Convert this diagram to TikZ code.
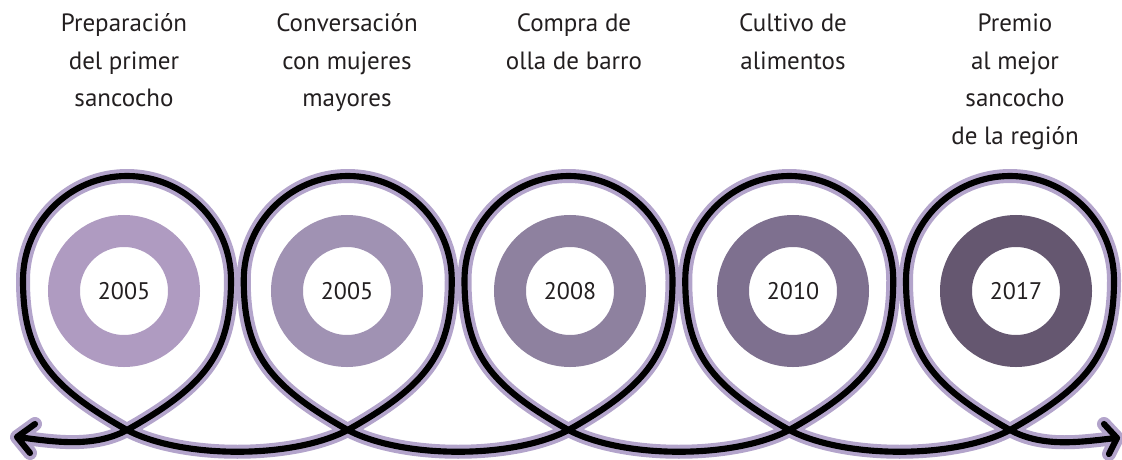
\documentclass[tikz,border=0pt]{standalone}
\usepackage{fontspec}
\setmainfont{PT Sans}
\definecolor{halocol}{HTML}{B3A4CB}
\definecolor{textcol}{HTML}{231F20}
\definecolor{ca}{HTML}{AF9BC1}
\definecolor{cb}{HTML}{A092B3}
\definecolor{cc}{HTML}{8E819F}
\definecolor{cd}{HTML}{7E708F}
\definecolor{ce}{HTML}{655770}
\begin{document}
\begin{tikzpicture}[x=0.75pt,y=-0.75pt,
  halo/.style={draw=halocol, line width=10.5pt, line cap=round, line join=round},
  ink/.style={draw=black, line width=4.6pt, line cap=round, line join=round},
  ring/.style={circle, minimum size=90pt, line width=24pt, inner sep=0pt,
    font=\fontsize{18}{22}\selectfont, text=textcol},
  title/.style={anchor=base, inner sep=0pt, text=textcol,
    font=\fontsize{18.75}{28.1}\selectfont}]
\useasboundingbox (0,0) rectangle (1122,460);

% titles
\node[title] (t1) at (124,32) {\begin{tabular}[t]{@{}c@{}}Preparación\\del primer\\sancocho\end{tabular}};
\node[title] (t2) at (347,32) {\begin{tabular}[t]{@{}c@{}}Conversación\\con mujeres\\mayores\end{tabular}};
\node[title] (t3) at (574,32) {\begin{tabular}[t]{@{}c@{}}Compra de\\olla de barro\end{tabular}};
\node[title] (t4) at (793,32) {\begin{tabular}[t]{@{}c@{}}Cultivo de\\alimentos\end{tabular}};
\node[title] (t5) at (1015,32) {\begin{tabular}[t]{@{}c@{}}Premio\\al mejor\\sancocho\\de la región\end{tabular}};

% curling line
\draw[ink, preaction={halo}]
  (17,437) .. controls (50,441) and (92,449) .. (127,430)
  \foreach \c in {127,347.75,568.5,789.25} {
    .. controls ({\c+80},385) and ({\c+104},352) .. ({\c+104},280)
    .. controls ({\c+104},222.6) and ({\c+57.4},176) .. (\c,176)
    .. controls ({\c-57.4},176) and ({\c-104},222.6) .. ({\c-104},280)
    .. controls ({\c-104},352) and ({\c-80},385) .. (\c,430)
    .. controls ({\c+55},459) and ({\c+165.75},459) .. ({\c+220.75},430)
  }
  .. controls (1090,385) and (1114,352) .. (1114,280)
  .. controls (1114,222.6) and (1067.4,176) .. (1010,176)
  .. controls (952.6,176) and (906,222.6) .. (906,280)
  .. controls (906,352) and (930,385) .. (1010,430)
  .. controls (1045,449) and (1085,441) .. (1117,438)
  (35,424) -- (17,437) -- (30,453)
  (1104,424) -- (1117,438) -- (1109,454);

% rings
\node[ring, draw=ca] (y1) at (124,291) {2005};
\node[ring, draw=cb] (y2) at (347,291) {2005};
\node[ring, draw=cc] (y3) at (570,291) {2008};
\node[ring, draw=cd] (y4) at (793,291) {2010};
\node[ring, draw=ce] (y5) at (1016,291) {2017};
\end{tikzpicture}
\end{document}
